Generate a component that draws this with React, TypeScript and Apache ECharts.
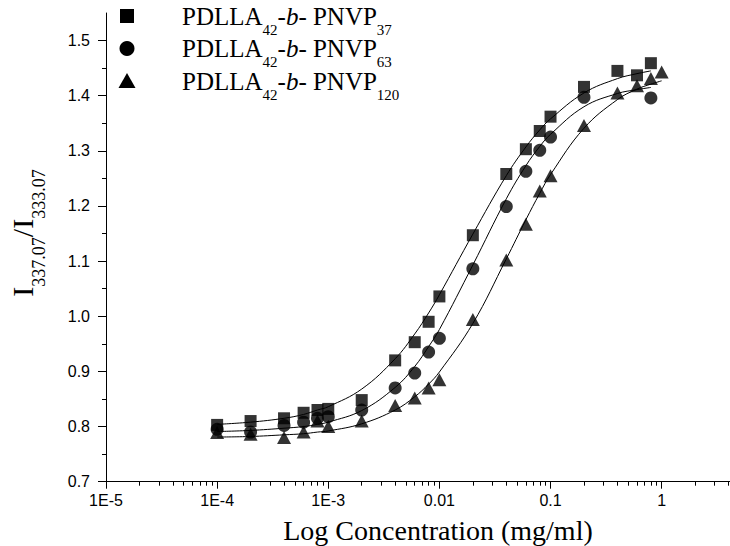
import React, { useEffect, useRef } from "react";
import * as echarts from "echarts";

// Concentrations (mg/ml)
const conc = [1e-4, 2e-4, 4e-4, 6e-4, 8e-4, 1e-3, 2e-3, 4e-3, 6e-3, 8e-3, 0.01, 0.02, 0.04, 0.06, 0.08, 0.1, 0.2, 0.4, 0.6, 0.8, 1.0];

// Measured I337.07/I333.07 ratios
const pnvp37 = [0.803, 0.810, 0.815, 0.825, 0.830, 0.832, 0.848, 0.920, 0.953, 0.990, 1.036, 1.147, 1.258, 1.303, 1.336, 1.362, 1.416, 1.445, 1.437, 1.459, null];
const pnvp63 = [0.795, 0.790, 0.802, 0.808, 0.815, 0.818, 0.830, 0.870, 0.897, 0.935, 0.960, 1.086, 1.199, 1.263, 1.301, 1.325, 1.397, null, null, 1.396, null];
const pnvp120 = [0.789, 0.786, 0.780, 0.790, 0.810, 0.800, 0.810, 0.838, 0.852, 0.870, 0.885, 0.994, 1.102, 1.167, 1.227, 1.255, 1.346, 1.405, 1.418, 1.431, 1.443];

// Fitted sigmoid curves, at the same concentrations
const fit37 = [0.804, 0.808, 0.815, 0.822, 0.830, 0.836, 0.868, 0.923, 0.968, 1.006, 1.039, 1.149, 1.255, 1.307, 1.338, 1.358, 1.405, 1.431, 1.440, 1.445];
const fit63 = [0.791, 0.793, 0.797, 0.800, 0.804, 0.808, 0.829, 0.871, 0.909, 0.945, 0.976, 1.093, 1.213, 1.273, 1.308, 1.330, 1.380, 1.404, 1.411, 1.415];
const fit120 = [0.781, 0.782, 0.785, 0.787, 0.790, 0.792, 0.805, 0.830, 0.854, 0.877, 0.899, 0.987, 1.104, 1.175, 1.223, 1.257, 1.341, 1.393, 1.412, 1.421, 1.427];

// Axis ticks
const xTickExps = [-5, -4, -3, -2, -1, 0];
const xTickLabels = ["1E-5", "1E-4", "1E-3", "0.01", "0.1", "1"];
const yTicks = [0.7, 0.8, 0.9, 1.0, 1.1, 1.2, 1.3, 1.4, 1.5];
const yMinorTicks = [0.75, 0.85, 0.95, 1.05, 1.15, 1.25, 1.35, 1.45];

// Legend
const legendSubs = ["37", "63", "120"];

const X_MIN = -5;
const X_MAX = 0.615;

function toPoints(vals: (number | null)[]) {
  const out: [number, number][] = [];
  vals.forEach((v, i) => {
    if (v !== null && v !== undefined) out.push([Math.log10(conc[i]), v]);
  });
  return out;
}

const xMinorTicks: number[] = [];
for (let e = -5; e <= 0; e++) {
  for (let k = 2; k <= 9; k++) {
    const v = e + Math.log10(k);
    if (v < X_MAX) xMinorTicks.push(v);
  }
}

const SERIF = "'Liberation Serif', 'Times New Roman', serif";
const SANS = "'Liberation Sans', Arial, sans-serif";

function legendRich() {
  return {
    n: { fontFamily: SERIF, fontSize: 25, lineHeight: 42, fill: "#000" },
    i: { fontFamily: SERIF, fontSize: 25, lineHeight: 42, fontStyle: "italic", fill: "#000" },
    s: { fontFamily: SERIF, fontSize: 15, lineHeight: 15, verticalAlign: "bottom", fill: "#000" },
  };
}

export default function App() {
  const ref = useRef<HTMLDivElement>(null);
  useEffect(() => {
    if (!ref.current) return;
    const chart = echarts.init(ref.current, null, { renderer: "svg" });
    const labelMap: Record<string, string> = {};
    xTickExps.forEach((e, i) => (labelMap[String(e)] = xTickLabels[i]));

    const lineSeries = (d: number[]) => ({
      type: "line",
      data: toPoints(d),
      symbol: "none",
      smooth: 0.4,
      lineStyle: { color: "#000", width: 1 },
      silent: true,
      z: 1,
    });

    const rowY = [16, 48.5, 81];
    const symX = 127;

    chart.setOption({
      animation: false,
      backgroundColor: "#fff",
      grid: { left: 106, right: 0, top: 13, bottom: 64.3 },
      xAxis: [
        {
          type: "value",
          min: X_MIN,
          max: X_MAX,
          position: "bottom",
          axisLine: { show: true, onZero: false, lineStyle: { color: "#000", width: 1 } },
          axisTick: { show: true, customValues: xTickExps, length: 7, lineStyle: { color: "#000" } },
          axisLabel: {
            customValues: xTickExps,
            formatter: (v: number) => labelMap[String(Math.round(v))] ?? "",
            fontFamily: SANS,
            fontSize: 16,
            color: "#000",
            margin: 11,
          },
          splitLine: { show: false },
        },
        {
          type: "value",
          min: X_MIN,
          max: X_MAX,
          position: "bottom",
          offset: 0,
          axisLine: { show: false, onZero: false },
          axisTick: { show: true, customValues: xMinorTicks, length: 4, lineStyle: { color: "#000" } },
          axisLabel: { show: false },
          splitLine: { show: false },
        },
      ],
      yAxis: [
        {
          type: "value",
          min: 0.7,
          max: 1.55,
          position: "left",
          axisLine: { show: true, onZero: false, lineStyle: { color: "#000", width: 1 } },
          axisTick: { show: true, customValues: yTicks, length: 8, lineStyle: { color: "#000" } },
          axisLabel: {
            customValues: yTicks,
            formatter: (v: number) => v.toFixed(1),
            fontFamily: SANS,
            fontSize: 16,
            color: "#000",
            margin: 16,
          },
          splitLine: { show: false },
        },
        {
          type: "value",
          min: 0.7,
          max: 1.55,
          position: "left",
          offset: 0,
          axisLine: { show: false, onZero: false },
          axisTick: { show: true, customValues: yMinorTicks, length: 4, lineStyle: { color: "#000" } },
          axisLabel: { show: false },
          splitLine: { show: false },
        },
      ],
      series: [
        lineSeries(fit37 as number[]),
        lineSeries(fit63 as number[]),
        lineSeries(fit120 as number[]),
        {
          type: "scatter",
          data: toPoints(pnvp37),
          symbol: "rect",
          symbolSize: 12,
          itemStyle: { color: "#000" },
          z: 2,
        },
        {
          type: "scatter",
          data: toPoints(pnvp63),
          symbol: "circle",
          symbolSize: 13,
          itemStyle: { color: "#000" },
          z: 3,
        },
        {
          type: "scatter",
          data: toPoints(pnvp120),
          symbol: "triangle",
          symbolSize: [14, 13],
          itemStyle: { color: "#000" },
          z: 4,
        },
      ],
      graphic: [
        { type: "rect", shape: { x: symX - 7, y: rowY[0] - 7, width: 14, height: 14 }, style: { fill: "#000" } },
        { type: "circle", shape: { cx: symX, cy: rowY[1], r: 7.5 }, style: { fill: "#000" } },
        {
          type: "polygon",
          shape: { points: [[symX, rowY[2] - 8], [symX + 8.5, rowY[2] + 7], [symX - 8.5, rowY[2] + 7]] },
          style: { fill: "#000" },
        },
        ...legendSubs.map((n, i) => ({
          type: "text",
          x: 182,
          y: rowY[i],
          style: {
            text: `{n|PDLLA}{s|42}{n|-}{i|b}{n|- PNVP}{s|${n}}`,
            rich: legendRich(),
            align: "left",
            verticalAlign: "middle",
          },
        })),
        {
          type: "text",
          x: 22,
          y: 233,
          rotation: Math.PI / 2,
          style: {
            text: "{n|I}{s|337.07}{n|/I}{s|333.07}",
            align: "center",
            verticalAlign: "middle",
            rich: {
              n: { fontFamily: SERIF, fontSize: 30, lineHeight: 52, fill: "#000" },
              s: { fontFamily: SERIF, fontSize: 18, lineHeight: 18, verticalAlign: "bottom", fill: "#000" },
            },
          },
        },
        {
          type: "text",
          x: 438,
          y: 530,
          style: {
            text: "Log Concentration (mg/ml)",
            fontFamily: SERIF,
            fontSize: 28,
            fill: "#000",
            align: "center",
            verticalAlign: "middle",
          },
        },
      ],
    });
    return () => chart.dispose();
  }, []);
  return (
    <div
      ref={ref}
      style={{ position: "absolute", left: 0, top: 0, width: 730, height: 546 }}
    />
  );
}
